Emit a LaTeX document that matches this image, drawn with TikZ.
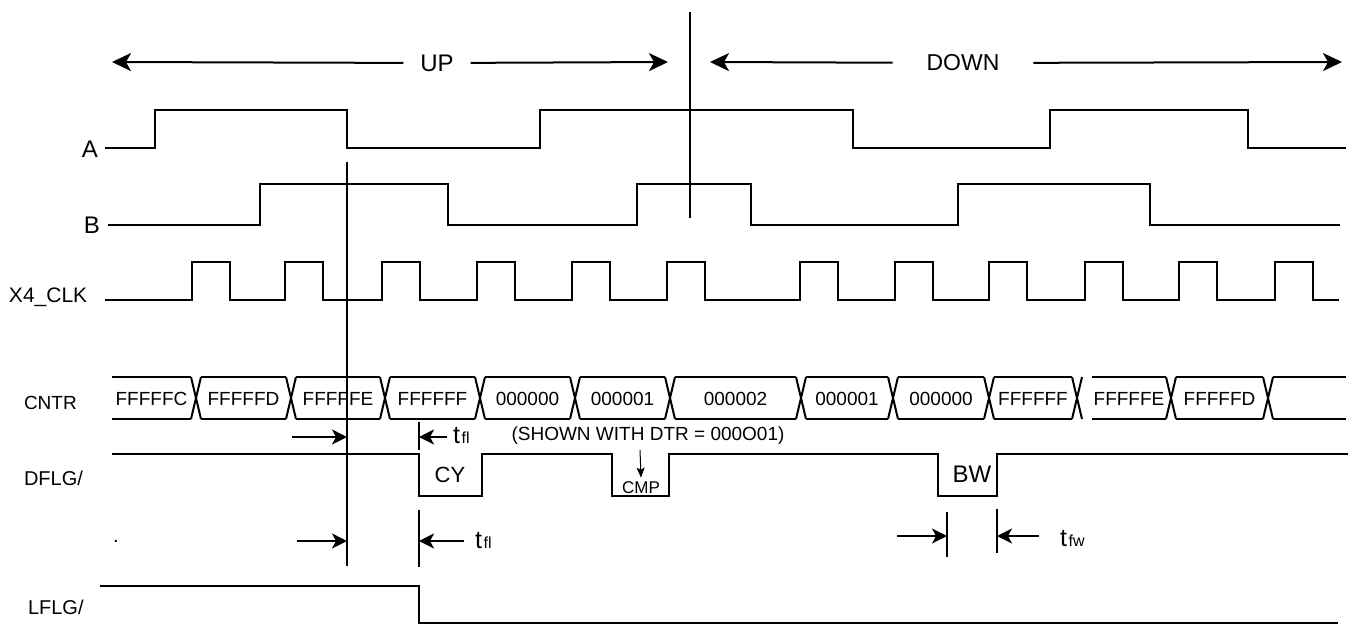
\documentclass[tikz,border=0pt]{standalone}
\usepackage{fontspec}
\setmainfont{Liberation Sans}
\usetikzlibrary{arrows.meta}
\newcommand{\fs}[1]{\fontsize{#1}{#1}\selectfont}

\begin{document}
\begin{tikzpicture}[x=1pt,y=-1pt,line width=2pt,
    bigarrow/.style={-{Stealth[length=19pt,width=18pt,inset=5pt]}},
    tarrow/.style={-{Stealth[length=15pt,width=15pt,inset=4pt]}},
    sig/.style={inner sep=0pt},
    val/.style={font={\fs{19}}}]
    \useasboundingbox (0,0) rectangle (1356,635);

    % Direction arrows
    \node[font={\fs{24}},inner xsep=16pt] (up) at (437,63) {UP};
    \node[font={\fs{23}},inner xsep=33pt] (down) at (963,63) {DOWN};
    \coordinate (upL) at (112,62);
    \coordinate (upR) at (668,62);
    \coordinate (dnL) at (710,62);
    \coordinate (dnR) at (1342,62);
    \draw[bigarrow] (up) -- (upL);
    \draw[bigarrow] (up) -- (upR);
    \draw[bigarrow] (down) -- (dnL);
    \draw[bigarrow] (down) -- (dnR);

    % Markers
    \draw (690,12) -- (690,218);
    \draw (347,162) -- (347,566);

    % Signal names
    \node[sig,anchor=east,font={\fs{24}}] (labA) at (99,149) {A};
    \node[sig,anchor=east,font={\fs{24}}] (labB) at (101,225) {B};
    \node[sig,anchor=west,font={\fs{21}}] (labClk) at (8,297) {X4\_CLK};
    \node[sig,anchor=west,font={\fs{19}}] (labCntr) at (23,403) {CNTR};
    \node[sig,anchor=west,font={\fs{20}}] (labDflg) at (23,478) {DFLG/};
    \node[sig,font={\fs{20}}] (labDot) at (116,541) {.};
    \node[sig,anchor=west,font={\fs{20}}] (labLflg) at (27,607) {LFLG/};

    % A and B
    \draw (105,148) -- (155,148) |- (347,110) |- (540,148) |- (853,110)
        |- (1050,148) |- (1248,110) |- (1346,148);
    \draw (108,225) -- (260,225) |- (448,184) |- (637,225) |- (751,184)
        |- (958,225) |- (1150,184) |- (1340,225);

    % X4_CLK
    \draw (105,300) \foreach \r in {192,285,382,477,572,667,800,895,989,1085,1179,1275}
        { -- (\r,300) |- (\r+38,262) -- (\r+38,300) } -- (1339,300);

    % CNTR
    \foreach \a/\b/\v [count=\i] in {112/191/FFFFFC, 201/286/FFFFFD, 296/380/FFFFFE,
        390/475/FFFFFF, 485/570/000000, 580/665/000001, 675/796/000002,
        806/888/000001, 898/984/000000, 994/1072/FFFFFF, 1092/1166/FFFFFE,
        1176/1263/FFFFFD}{
        \draw (\a,377) -- (\b,377) (\a,419) -- (\b,419);
        \node[val] (cnt\i) at ({(\a+\b)/2},399) {\v};
    }
    \draw (1273,377) -- (1346,377) (1273,419) -- (1346,419);
    \foreach \c in {196,291,385,480,575,670,801,893,989,1077,1171,1268}
        \draw (\c-5,377) -- (\c+5,419) (\c-5,419) -- (\c+5,377);

    % DFLG/
    \draw (112,454) -- (419,454) |- (482,496) |- (612,454) |- (669,496)
        |- (938,454) |- (997,496) |- (1348,454);
    \node[font={\fs{22}}] (cy) at (450,475) {CY};
    \node[font={\fs{17}}] (cmp) at (641,488) {CMP};
    \node[font={\fs{24}}] (bw) at (972,474) {BW};
    \node[font={\fs{19}}] (dtr) at (648,436) {(SHOWN WITH DTR = 000O01)};
    \coordinate (cmpT) at (640,450);
    \draw[line width=1pt,-{Stealth[length=10pt,width=8pt,inset=2pt]}] (cmpT) -- (cmp.north);

    % LFLG/
    \draw (100,586) -- (419,586) |- (1338,623);

    % Timing
    \node[sig,anchor=base west] (tfl1) at (452,443) {{\fs{25}t}\,{\fs{16}fl}};
    \node[sig,anchor=base west] (tfl2) at (474,548) {{\fs{25}t}\,{\fs{16}fl}};
    \node[sig,anchor=base west] (tfw) at (1059,546) {{\fs{25}t}\,{\fs{16}fw}};
    \draw (419,422) -- (419,450);
    \draw (419,510) -- (419,567);
    \draw (947,512) -- (947,557);
    \draw (997,509) -- (997,553);
    \coordinate (a1s) at (292,437); \coordinate (a1e) at (347,437);
    \coordinate (a2s) at (447,437); \coordinate (a2e) at (419,437);
    \coordinate (a3s) at (297,541); \coordinate (a3e) at (347,541);
    \coordinate (a4s) at (464,541); \coordinate (a4e) at (419,541);
    \coordinate (a5s) at (897,536); \coordinate (a5e) at (947,536);
    \coordinate (a6s) at (1039,536); \coordinate (a6e) at (997,536);
    \foreach \i in {1,...,6}
        \draw[tarrow] (a\i s) -- (a\i e);
\end{tikzpicture}
\end{document}
